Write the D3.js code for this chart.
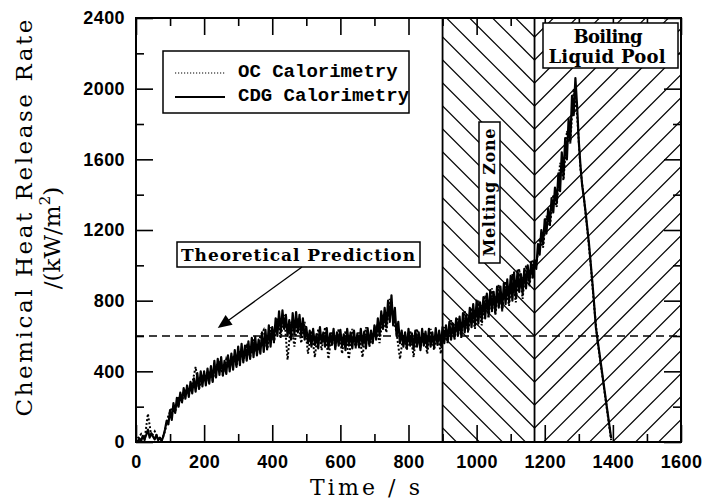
<!DOCTYPE html>
<html><head><meta charset="utf-8">
<script src="https://cdn.jsdelivr.net/npm/d3@7/dist/d3.min.js"></script>
<style>body{margin:0;background:#fff}svg{display:block}</style>
</head><body><svg id="c" width="706" height="504"></svg>
<script>
// ---------- data ----------
const xTickValues = [0,200,400,600,800,1000,1200,1400,1600];
const xMinorValues = [100,300,500,700,900,1100,1300,1500];
const yTickValues = [0,400,800,1200,1600,2000,2400];
const yMinorValues = [200,600,1000,1400,1800,2200];
const theoreticalPrediction = 600;
const meltingZone = [900,1170];
const boilingZone = [1170,1600];
const seriesNames = ["OC Calorimetry","CDG Calorimetry"];

const cdgTime = [
0,5,10,15,20,25,30,35,40,45,
50,55,60,65,70,75,80,85,90,95,
100,105,110,115,120,125,130,135,140,145,
150,155,160,165,170,175,180,185,190,195,
200,205,210,215,220,225,230,235,240,245,
250,255,260,265,270,275,280,285,290,295,
300,305,310,315,320,325,330,335,340,345,
350,355,360,365,370,375,380,385,390,395,
400,405,410,415,420,425,430,435,440,445,
450,455,460,465,470,475,480,485,490,495,
500,505,510,515,520,525,530,535,540,545,
550,555,560,565,570,575,580,585,590,595,
600,605,610,615,620,625,630,635,640,645,
650,655,660,665,670,675,680,685,690,695,
700,705,710,715,720,725,730,735,740,745,
750,755,760,765,770,775,780,785,790,795,
800,805,810,815,820,825,830,835,840,845,
850,855,860,865,870,875,880,885,890,895,
900,905,910,915,920,925,930,935,940,945,
950,955,960,965,970,975,980,985,990,995,
1000,1005,1010,1015,1020,1025,1030,1035,1040,1045,
1050,1055,1060,1065,1070,1075,1080,1085,1090,1095,
1100,1105,1110,1115,1120,1125,1130,1135,1140,1145,
1150,1155,1160,1165,1170,1175,1180,1185,1190,1195,
1200,1205,1210,1215,1220,1225,1230,1235,1240,1245,
1250,1255,1260,1265,1270,1275,1280,1285,1290,1295,
1300,1305,1310,1315,1320,1325,1330,1335,1340,1345,
1350,1355,1360,1365,1370,1375,1380,1385,1390,1395];
const cdgHRR = [
10,0,20,5,35,15,40,70,25,50,
30,15,40,10,25,5,30,70,120,100,
180,125,220,165,250,200,280,225,305,245,
320,255,340,275,360,285,390,300,400,315,
400,320,415,330,430,340,460,365,470,380,
480,375,460,385,490,400,500,410,520,425,
540,435,555,450,545,460,570,470,590,480,
595,490,580,500,620,510,635,525,660,540,
650,570,700,600,740,620,745,640,720,600,
690,580,730,610,735,620,720,600,700,580,
650,560,630,540,640,550,610,530,650,560,
620,540,645,530,615,550,640,525,620,545,
635,540,610,520,640,545,620,530,630,540,
615,535,640,545,625,530,645,550,630,560,
660,580,700,600,740,640,760,650,800,680,
830,660,760,600,680,560,630,540,620,530,
640,545,615,525,630,540,620,520,640,545,
625,530,640,540,620,535,645,550,630,545,
650,560,660,570,680,580,670,590,700,600,
710,600,730,620,720,630,760,650,780,660,
800,670,790,690,820,700,840,720,860,740,
850,730,880,760,880,750,900,780,920,790,
940,800,960,820,970,850,950,840,980,870,
1000,900,1020,930,1030,980,1120,1060,1200,1120,
1260,1180,1320,1230,1380,1300,1440,1350,1520,1420,
1640,1500,1720,1600,1830,1700,1960,1850,2060,1900,
1700,1560,1450,1380,1300,1210,1120,1010,900,780,
650,580,510,440,370,300,230,160,90,20];

const ocTime = [
5,15,25,35,45,55,65,75,85,95,
105,115,125,135,145,155,165,175,185,195,
205,215,225,235,245,255,265,275,285,295,
305,315,325,335,345,355,365,375,385,395,
405,415,425,435,445,455,465,475,485,495,
505,515,525,535,545,555,565,575,585,595,
605,615,625,635,645,655,665,675,685,695,
705,715,725,735,745,755,765,775,785,795,
805,815,825,835,845,855,865,875,885,895,
905,915,925,935,945,955,965,975,985,995,
1005,1015,1025,1035,1045,1055,1065,1075,1085,1095,
1105,1115,1125,1135,1145,1155,1165,1175,1185,1195,
1205,1215,1225,1235,1245,1255,1265,1275,1285,1295,
1305,1315,1325,1335,1345,1355,1365,1375,1385,1395];
const ocHRR = [
20,45,10,160,30,60,20,10,60,150,
190,170,260,230,300,280,330,425,300,370,
340,390,350,430,450,380,470,420,490,430,
520,460,540,480,580,500,600,634,520,650,
560,700,590,720,465,680,540,700,560,680,
500,630,480,640,520,650,470,620,540,640,
500,630,470,640,530,620,480,650,540,600,
650,560,720,620,810,700,620,470,610,520,
630,480,640,530,620,500,640,520,610,500,
650,560,690,580,700,590,740,620,760,640,
800,660,830,700,870,720,890,740,910,770,
950,790,980,810,1000,880,1030,990,1150,1100,
1280,1220,1400,1330,1580,1480,1760,1690,2000,1850,
1540,1380,1200,1000,770,570,430,290,150,10];

// ---------- layout ----------
const svg = d3.select('#c');
const x = d3.scaleLinear().domain([0,1600]).range([136,681]);
const y = d3.scaleLinear().domain([0,2400]).range([442,18]);
const [X0,X1] = x.range(), [Y0,Y1] = y.range();

const defs = svg.append('defs');
function clip(id, a, b){
  defs.append('clipPath').attr('id',id).append('rect')
    .attr('x',x(a)).attr('y',Y1).attr('width',x(b)-x(a)).attr('height',Y0-Y1);
}
clip('clipMelt', meltingZone[0], meltingZone[1]);
clip('clipBoil', boilingZone[0], boilingZone[1]);
clip('clipPlot', 0, 1600);

// hatching
const xb = x(meltingZone[1]), yv = y(theoreticalPrediction);
const slope = 1, spacing = 23;
const gm = svg.append('g').attr('clip-path','url(#clipMelt)');
const gb = svg.append('g').attr('clip-path','url(#clipBoil)');
for (let k=-40;k<=40;k++){
  const c = yv + k*spacing;
  gm.append('line').attr('x1',xb-400).attr('y1',c-400*slope).attr('x2',xb).attr('y2',c)
    .attr('stroke','#000').attr('stroke-width',1.2);
  gb.append('line').attr('x1',xb).attr('y1',c).attr('x2',xb+400).attr('y2',c-400*slope)
    .attr('stroke','#000').attr('stroke-width',1.2);
}
// zone boundaries
[meltingZone[0], meltingZone[1]].forEach(v=>{
  svg.append('line').attr('x1',x(v)).attr('x2',x(v)).attr('y1',Y0).attr('y2',Y1)
    .attr('stroke','#000').attr('stroke-width',1.8);
});

// theoretical prediction
svg.append('line').attr('x1',X0).attr('x2',X1).attr('y1',y(theoreticalPrediction)).attr('y2',y(theoreticalPrediction))
  .attr('stroke','#000').attr('stroke-width',1.6).attr('stroke-dasharray','8,5');

// data
const line = d3.line().x(d=>x(d[0])).y(d=>y(d[1]));
const gd = svg.append('g').attr('clip-path','url(#clipPlot)');
gd.append('path').datum(cdgTime.map((t,i)=>[t,cdgHRR[i]])).attr('d',line)
  .attr('fill','none').attr('stroke','#000').attr('stroke-width',2.2).attr('stroke-linejoin','round');
gd.append('path').datum(ocTime.map((t,i)=>[t,ocHRR[i]])).attr('d',line)
  .attr('fill','none').attr('stroke','#000').attr('stroke-width',2).attr('stroke-dasharray','2,2');

// axes
const tickFont = g => g.selectAll('text').style('font-family','"Liberation Sans", Arial, sans-serif')
  .style('font-size','18px').style('font-weight','bold').style('letter-spacing','0.4px').attr('fill','#000');
function ax(gen, tr){
  const g = svg.append('g').attr('transform',tr).call(gen);
  g.select('.domain').remove();
  g.selectAll('line').attr('stroke','#000').attr('stroke-width',1.6);
  tickFont(g);
  return g;
}
ax(d3.axisBottom(x).tickValues(xTickValues).tickSize(-17).tickPadding(13).tickFormat(d3.format('d')), `translate(0,${Y0})`);
ax(d3.axisBottom(x).tickValues(xMinorValues).tickSize(-8).tickFormat(''), `translate(0,${Y0})`);
ax(d3.axisTop(x).tickValues(xTickValues).tickSize(-17).tickFormat(''), `translate(0,${Y1})`);
ax(d3.axisTop(x).tickValues(xMinorValues).tickSize(-8).tickFormat(''), `translate(0,${Y1})`);
ax(d3.axisLeft(y).tickValues(yTickValues).tickSize(-17).tickPadding(11).tickFormat(d3.format('d')), `translate(${X0},0)`);
ax(d3.axisLeft(y).tickValues(yMinorValues).tickSize(-8).tickFormat(''), `translate(${X0},0)`);
ax(d3.axisRight(y).tickValues(yTickValues).tickSize(-17).tickFormat(''), `translate(${X1},0)`);
ax(d3.axisRight(y).tickValues(yMinorValues).tickSize(-8).tickFormat(''), `translate(${X1},0)`);
svg.append('rect').attr('x',X0).attr('y',Y1).attr('width',X1-X0).attr('height',Y0-Y1)
  .attr('fill','none').attr('stroke','#000').attr('stroke-width',2);

// axis titles
const serif = '"DejaVu Serif", serif';
svg.append('text').attr('transform','translate(32,218) rotate(-90)').attr('text-anchor','middle')
  .style('font-family',serif).style('font-size','23px').attr('textLength',397).attr('lengthAdjust','spacing')
  .text('Chemical Heat Release Rate');
const t2 = svg.append('text').attr('transform','translate(60,238) rotate(-90)').attr('text-anchor','middle')
  .style('font-family',serif).style('font-size','23px');
t2.append('tspan').text('/(kW/m');
t2.append('tspan').attr('dy',-10).style('font-size','15px').text('2');
t2.append('tspan').attr('dy',10).text(')');
svg.append('text').attr('x',365).attr('y',495).attr('text-anchor','middle')
  .style('font-family',serif).style('font-size','22px').attr('textLength',110).attr('lengthAdjust','spacing')
  .text('Time / s');

// legend
svg.append('rect').attr('x',163).attr('y',51).attr('width',246).attr('height',62)
  .attr('fill','#fff').attr('stroke','#000').attr('stroke-width',1.5);
svg.append('line').attr('x1',175).attr('x2',225).attr('y1',73).attr('y2',73)
  .attr('stroke','#000').attr('stroke-width',1.2).attr('stroke-dasharray','1.2,1.8');
svg.append('line').attr('x1',175).attr('x2',225).attr('y1',97).attr('y2',97)
  .attr('stroke','#000').attr('stroke-width',2);
const mono = '"Liberation Mono", "Courier New", monospace';
svg.append('text').attr('x',238).attr('y',77).style('font-family',mono).style('font-size','19px')
  .style('font-weight','bold').text(seriesNames[0]);
svg.append('text').attr('x',238).attr('y',101).style('font-family',mono).style('font-size','19px')
  .style('font-weight','bold').text(seriesNames[1]);

// annotation: theoretical prediction
svg.append('rect').attr('x',177).attr('y',242).attr('width',243).attr('height',25)
  .attr('fill','#fff').attr('stroke','#000').attr('stroke-width',1.5);
svg.append('text').attr('x',298).attr('y',261).attr('text-anchor','middle')
  .style('font-family',serif).style('font-size','17px').style('font-weight','bold')
  .attr('textLength',234).attr('lengthAdjust','spacing').text('Theoretical Prediction');
const ax0 = 302, ay0 = 267, ax1 = x(240), ay1 = y(645);
const ang = Math.atan2(ay1-ay0, ax1-ax0);
svg.append('line').attr('x1',ax0).attr('y1',ay0).attr('x2',ax1-10*Math.cos(ang)).attr('y2',ay1-10*Math.sin(ang))
  .attr('stroke','#000').attr('stroke-width',1.3);
const L=14, W=6;
const bx = ax1 - L*Math.cos(ang), by = ay1 - L*Math.sin(ang);
svg.append('path').attr('d',`M${ax1},${ay1}L${bx+W*Math.sin(ang)},${by-W*Math.cos(ang)}L${bx-W*Math.sin(ang)},${by+W*Math.cos(ang)}Z`)
  .attr('fill','#000');

// melting zone label
svg.append('rect').attr('x',479).attr('y',122).attr('width',21).attr('height',141)
  .attr('fill','#fff').attr('stroke','#000').attr('stroke-width',1.5);
svg.append('text').attr('transform','translate(495,192.5) rotate(-90)').attr('text-anchor','middle')
  .style('font-family',serif).style('font-size','16px').style('font-weight','bold')
  .attr('textLength',128).attr('lengthAdjust','spacing').text('Melting Zone');

// boiling label
svg.append('rect').attr('x',543).attr('y',23).attr('width',135).attr('height',45)
  .attr('fill','#fff').attr('stroke','#000').attr('stroke-width',1.5);
svg.append('text').attr('x',608).attr('y',43).attr('text-anchor','middle')
  .style('font-family',serif).style('font-size','18px').style('font-weight','bold')
  .attr('textLength',69).attr('lengthAdjust','spacing').text('Boiling');
svg.append('text').attr('x',607).attr('y',63).attr('text-anchor','middle')
  .style('font-family',serif).style('font-size','18px').style('font-weight','bold')
  .attr('textLength',117).attr('lengthAdjust','spacing').text('Liquid Pool');
</script></body></html>
